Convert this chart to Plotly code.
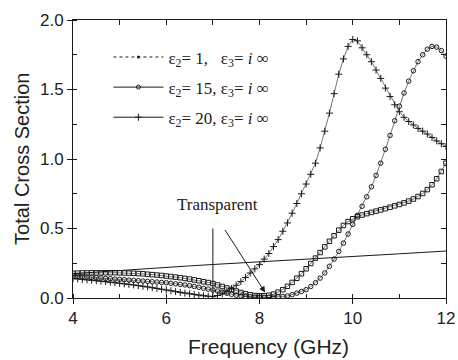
import plotly.graph_objects as go

# Frequency grid (GHz)
FREQ = [round(4 + 0.1 * i, 1) for i in range(81)]
FREQ_LINE = [4.0, 4.5, 5.0, 5.5, 6.0, 6.5, 7.0, 7.5, 8.0, 8.5, 9.0, 9.5, 10.0, 10.5, 11.0, 11.5, 12.0]

# eps2 = 1 (thin line)
TCS_EPS1 = [0.175, 0.187, 0.199, 0.210, 0.221, 0.231, 0.241, 0.250, 0.259,
            0.268, 0.278, 0.288, 0.298, 0.308, 0.318, 0.328, 0.338]

# eps2 = 15 (open circles)
TCS_EPS15 = [0.158, 0.156, 0.153, 0.151, 0.148, 0.146, 0.144, 0.141, 0.139, 0.136,
             0.134, 0.132, 0.129, 0.127, 0.124, 0.122, 0.120, 0.117, 0.115, 0.112,
             0.110, 0.106, 0.102, 0.098, 0.094, 0.089, 0.083, 0.077, 0.070, 0.064,
             0.058, 0.050, 0.042, 0.034, 0.026, 0.020, 0.015, 0.011, 0.009, 0.007,
             0.006, 0.005, 0.005, 0.006, 0.008, 0.011, 0.015, 0.024, 0.035, 0.047,
             0.060, 0.083, 0.110, 0.143, 0.180, 0.228, 0.280, 0.335, 0.395, 0.460,
             0.530, 0.595, 0.660, 0.728, 0.800, 0.882, 0.970, 1.070, 1.170, 1.275,
             1.380, 1.475, 1.560, 1.635, 1.700, 1.750, 1.790, 1.810, 1.805, 1.780,
             1.740]

# eps2 = 20 (plus markers)
TCS_EPS20 = [0.140, 0.137, 0.134, 0.131, 0.128, 0.125, 0.121, 0.118, 0.114, 0.110,
             0.106, 0.102, 0.098, 0.094, 0.089, 0.085, 0.080, 0.074, 0.069, 0.063,
             0.058, 0.052, 0.046, 0.040, 0.035, 0.030, 0.025, 0.020, 0.016, 0.012,
             0.010, 0.018, 0.030, 0.048, 0.068, 0.092, 0.118, 0.148, 0.180, 0.210,
             0.240, 0.280, 0.320, 0.370, 0.420, 0.480, 0.540, 0.610, 0.680, 0.750,
             0.820, 0.890, 0.970, 1.080, 1.200, 1.330, 1.470, 1.610, 1.720, 1.810,
             1.860, 1.850, 1.800, 1.750, 1.700, 1.640, 1.580, 1.510, 1.450, 1.390,
             1.340, 1.300, 1.270, 1.245, 1.220, 1.200, 1.180, 1.155, 1.130, 1.110,
             1.090]

# unlabelled curve (open squares)
TCS_SQ = [0.178, 0.179, 0.180, 0.180, 0.181, 0.181, 0.181, 0.182, 0.182, 0.182,
          0.181, 0.180, 0.179, 0.178, 0.176, 0.174, 0.171, 0.168, 0.165, 0.162,
          0.158, 0.154, 0.150, 0.146, 0.141, 0.136, 0.130, 0.124, 0.117, 0.111,
          0.104, 0.094, 0.083, 0.072, 0.061, 0.050, 0.040, 0.030, 0.023, 0.018,
          0.016, 0.016, 0.020, 0.028, 0.042, 0.060, 0.084, 0.112, 0.142, 0.175,
          0.210, 0.248, 0.287, 0.327, 0.368, 0.408, 0.448, 0.488, 0.522, 0.550,
          0.570, 0.585, 0.597, 0.607, 0.616, 0.625, 0.634, 0.643, 0.653, 0.663,
          0.673, 0.684, 0.697, 0.712, 0.730, 0.752, 0.780, 0.815, 0.858, 0.910,
          0.970]

LEGEND_NAMES = [
    "ε<sub>2</sub>= 1,   ε<sub>3</sub>= <i>i</i> ∞",
    "ε<sub>2</sub>= 15, ε<sub>3</sub>= <i>i</i> ∞",
    "ε<sub>2</sub>= 20, ε<sub>3</sub>= <i>i</i> ∞",
]

INK = "#1a1a1a"
fig = go.Figure()

# data traces
fig.add_trace(go.Scatter(x=FREQ_LINE, y=TCS_EPS1, mode="lines",
                         line=dict(color=INK, width=1), showlegend=False))
fig.add_trace(go.Scatter(x=FREQ, y=TCS_SQ, mode="lines+markers",
                         line=dict(color=INK, width=0.6),
                         marker=dict(symbol="square-open", size=4.5, color=INK, line=dict(width=1, color=INK)),
                         showlegend=False))
fig.add_trace(go.Scatter(x=FREQ, y=TCS_EPS15, mode="lines+markers",
                         line=dict(color=INK, width=0.6),
                         marker=dict(symbol="circle-open", size=4.5, color=INK, line=dict(width=1, color=INK)),
                         showlegend=False))
fig.add_trace(go.Scatter(x=FREQ, y=TCS_EPS20, mode="lines+markers",
                         line=dict(color=INK, width=0.6),
                         marker=dict(symbol="cross-thin-open", size=5, color=INK, line=dict(width=1, color=INK)),
                         showlegend=False))

# legend entries
fig.add_trace(go.Scatter(x=[None], y=[None], mode="lines+markers", name=LEGEND_NAMES[0],
                         legendgroup="a",
                         line=dict(color=INK, width=1, dash="dot"),
                         marker=dict(symbol="circle", size=3, color=INK)))
fig.add_trace(go.Scatter(x=[None], y=[None], mode="lines+markers", name=LEGEND_NAMES[1],
                         legendgroup="b",
                         line=dict(color=INK, width=1),
                         marker=dict(symbol="circle-open", size=4, color=INK, line=dict(width=1, color=INK))))
fig.add_trace(go.Scatter(x=[None], y=[None], mode="lines+markers", name=LEGEND_NAMES[2],
                         legendgroup="c",
                         line=dict(color=INK, width=1),
                         marker=dict(symbol="cross-thin-open", size=5, color=INK, line=dict(width=1, color=INK))))

# helper trace for the mirrored (inside-tick) axes
fig.add_trace(go.Scatter(x=[None], y=[None], xaxis="x2", yaxis="y2", showlegend=False))

tickfont = dict(family="Liberation Sans, Arial, sans-serif", size=17, color="#222")

fig.update_layout(
    width=458, height=360,
    margin=dict(l=73, r=12, t=20, b=62, autoexpand=False),
    plot_bgcolor="white", paper_bgcolor="white",
    showlegend=True,
    legend=dict(x=0.095, y=0.93, xanchor="left", yanchor="top",
                bgcolor="rgba(0,0,0,0)", itemwidth=50, tracegroupgap=5,
                traceorder="grouped",
                font=dict(family="Liberation Serif, Times New Roman, serif", size=17, color=INK)),
    xaxis=dict(range=[4, 12], dtick=2, tick0=4, ticks="outside", ticklen=5, tickwidth=1,
               tickcolor=INK, showline=True, linecolor=INK, linewidth=1, mirror=True,
               showgrid=False, zeroline=False, tickfont=tickfont, automargin=False,
               minor=dict(dtick=1, ticks="inside", ticklen=4, tickcolor=INK, showgrid=False)),
    yaxis=dict(range=[0, 2.0], dtick=0.5, tick0=0, ticks="outside", ticklen=5, tickwidth=1,
               tickcolor=INK, showline=True, linecolor=INK, linewidth=1, mirror=True,
               showgrid=False, zeroline=False, tickfont=tickfont, tickformat=".1f", automargin=False,
               minor=dict(dtick=0.25, ticks="inside", ticklen=4, tickcolor=INK, showgrid=False)),
    xaxis2=dict(range=[4, 12], dtick=2, tick0=4, overlaying="x", side="top", anchor="y",
                ticks="inside", ticklen=5, tickcolor=INK, showticklabels=False, automargin=False,
                showline=False, showgrid=False, zeroline=False,
                minor=dict(dtick=1, ticks="inside", ticklen=5, tickcolor=INK, showgrid=False)),
    yaxis2=dict(range=[0, 2.0], dtick=0.5, tick0=0, overlaying="y", side="right", anchor="x",
                ticks="inside", ticklen=5, tickcolor=INK, showticklabels=False, automargin=False,
                showline=False, showgrid=False, zeroline=False,
                minor=dict(dtick=0.25, ticks="inside", ticklen=5, tickcolor=INK, showgrid=False)),
)

# axis titles
fig.add_annotation(text="Frequency (GHz)", xref="paper", yref="paper", x=0.523, y=-0.173,
                   xanchor="center", yanchor="middle", showarrow=False,
                   font=dict(family="Liberation Sans, Arial, sans-serif", size=21, color="#222"))
fig.add_annotation(text="Total Cross Section", xref="paper", yref="paper", x=-0.137, y=0.5,
                   xanchor="center", yanchor="middle", showarrow=False, textangle=-90,
                   font=dict(family="Liberation Sans, Arial, sans-serif", size=20, color="#222"))

# "Transparent" label with its pointers
fig.add_annotation(text="Transparent", x=7.1, y=0.67, xref="x", yref="y", showarrow=False,
                   font=dict(family="Liberation Serif, Times New Roman, serif", size=17, color=INK))
fig.add_shape(type="line", x0=7.0, y0=0.5, x1=7.0, y1=0.03, xref="x", yref="y",
              line=dict(color=INK, width=1))
fig.add_annotation(x=8.12, y=0.04, ax=7.24, ay=0.5, xref="x", yref="y", axref="x", ayref="y",
                   showarrow=True, arrowhead=2, arrowsize=1.2, arrowwidth=1, arrowcolor=INK, text="")

fig.write_html("out.html")
